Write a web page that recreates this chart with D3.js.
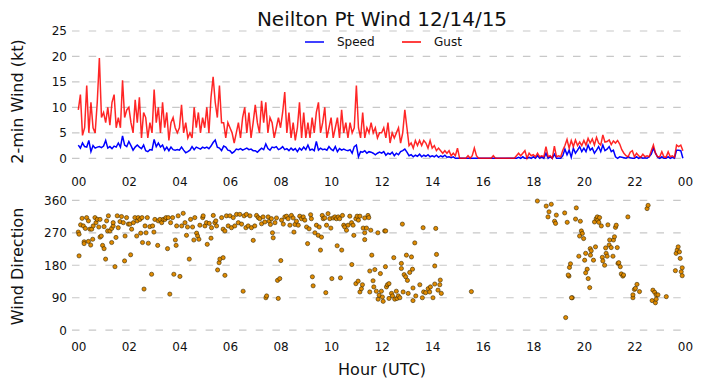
<!DOCTYPE html>
<html>
<head>
<meta charset="utf-8">
<script src="https://cdn.jsdelivr.net/npm/d3@7"></script>
<style>
body { margin: 0; background: #fff; }
text { font-family: "DejaVu Sans", sans-serif; fill: #111; }
</style>
</head>
<body>
<svg id="chart" width="702" height="388"></svg>
<script>
// 2-min wind, one value every 5 minutes (12 per row = 1 hour)
const speed = [
  2.6, 2, 3, 2.3, 2.2, 3.5, 1.3, 2.5, 2, 2.2, 2.3, 2.1,
  2.4, 3.5, 2, 2.3, 1.9, 2.4, 2.2, 3, 2.2, 4.4, 2.6, 2.3,
  3.3, 2.5, 1.6, 2.2, 2.6, 2.2, 1.9, 2.6, 1.5, 1.3, 1.7, 1.6,
  3.7, 2.3, 3, 2.2, 2.6, 1.6, 2.2, 1.5, 2.2, 1.7, 1.6, 1.7,
  1.6, 2.2, 1.6, 1.1, 1.3, 1.6, 2.3, 1.7, 2.2, 2, 1.8, 2.2,
  2, 2.2, 1.9, 2.4, 3.1, 3.6, 2.2, 2, 1.5, 2.4, 2.2, 1.6,
  1.5, 1, 1.3, 1.8, 1.7, 1.9, 1.6, 1.8, 2, 1.7, 1.8, 1.5,
  1.5, 1.2, 1.6, 2, 1.7, 2.8, 1.9, 1.6, 2.2, 2.1, 2.3, 1.7,
  1.9, 2.3, 1.7, 1.9, 1.5, 2, 1.6, 1.9, 1.3, 2, 1.6, 2.2,
  1.7, 2.6, 1.6, 1.8, 1.5, 3.3, 1.6, 2, 1.7, 1.8, 1.6, 2.3,
  1.8, 1.5, 2.3, 1.3, 1.9, 1.6, 1.8, 1.6, 1.5, 1.7, 1, 2.3,
  2.6, 0.3, 1.3, 1.2, 1.5, 1, 1.3, 1.2, 1, 0.7, 1, 1.2,
  1, 1.3, 0.6, 1, 0.8, 1.2, 0.5, 1, 0.7, 1.3, 1.5, 1.8,
  1.2, 0.5, 0.7, 0.3, 0.6, 0.4, 0.8, 0.3, 0.6, 0.4, 0.7, 0.3,
  0.5, 0.3, 0.6, 0.2, 0.5, 0.3, 0.6, 0.2, 0.3, 0.1, 0.3, 0,
  0, 0, 0, 0, 0, 0, 0, 0, 0, 0, 0, 0,
  0, 0, 0, 0, 0, 0, 0, 0, 0, 0, 0, 0,
  0, 0, 0, 0, 0, 0.2, 0, 0.3, 0, 0, 0.2, 0,
  0.3, 0, 0.5, 0, 0.3, 0, 1, 0, 0.3, 0, 0.8, 0,
  0, 0, 0.5, 1.8, 0.7, 1.6, 0.2, 2, 1, 1.6, 2.3, 1.3,
  2, 1.3, 2.6, 1.6, 2, 1, 1.6, 2.3, 1.3, 2.6, 1.5, 1.8,
  2.3, 1.3, 1.6, 0.3, 0, 0.3, 0.2, 0.1, 0, 0.3, 0.1, 0,
  0, 0.3, 0, 0.2, 0, 0.1, 0, 0.3, 0.8, 2, 1, 0.2,
  0, 0.3, 0, 0, 0.3, 0, 0.2, 0, 1.6, 1.6, 1.5, 0
];

const gust = [
  9.5, 12.5, 4.5, 6, 14.3, 5, 11, 6, 5, 11, 19.7, 8,
  9, 7, 10, 6.5, 11, 12.5, 6, 8, 6, 15.3, 8, 9.5,
  10, 7, 5, 11.5, 7, 12, 4, 9, 8, 4, 7, 5,
  13.5, 7, 10, 5, 11, 6, 9, 3.5, 7, 8, 6, 5,
  6, 10.5, 5, 7, 4, 5, 4, 10, 6, 9, 5, 8,
  6, 10, 5, 12, 16, 11, 8, 14.3, 7, 7, 4, 7,
  6, 5, 3, 5, 7, 4, 8, 10, 5, 9, 4, 7,
  10.5, 7, 5, 11.3, 7, 11, 5, 8, 7, 4, 6, 8,
  6, 9, 13, 5, 9, 4, 7, 3.5, 6, 11, 4, 9,
  4, 7, 4, 8, 5, 9, 11, 5, 7, 10, 4, 6,
  8, 4, 6, 8, 4, 9.5, 5, 7, 4, 7, 5, 6,
  14.3, 6, 4, 9, 4, 6, 5, 7, 5, 6, 4, 5,
  5, 6, 4, 7, 3, 5, 4, 5, 6, 3, 5, 9.5,
  6, 2.5, 3, 2, 3.5, 2.5, 3.5, 2.5, 3.5, 3, 2, 3.5,
  2, 2.5, 1.5, 2, 1.5, 1, 1.5, 1, 1.5, 0.5, 1, 0.5,
  2, 0, 0, 0, 0, 0.5, 0, 0.5, 2, 0.5, 0, 0,
  0, 0, 0, 0, 0, 0.5, 0, 0, 0, 0, 0, 0,
  0, 0, 0, 0, 0.5, 1, 0.5, 1, 1.5, 0, 1, 0.5,
  0.7, 0.3, 1, 0.3, 0.5, 0.3, 2.3, 0.3, 0.5, 0, 2.4, 0.3,
  0.5, 0.3, 1.6, 2.5, 3.7, 2, 3.5, 2.3, 3.6, 2.5, 3.2, 2.5,
  3.5, 2.6, 3.9, 3, 3.8, 2.6, 4.1, 3, 2.6, 4.6, 3.2, 3.3,
  3.6, 2.7, 3.4, 3, 3.5, 2.8, 1.7, 1, 0.5, 0.3, 1.2, 1.5,
  0.3, 1, 0.5, 0.2, 0.8, 0.3, 0.5, 0.3, 1.5, 2.6, 1, 0.3,
  0.3, 1.3, 0.3, 0.2, 1.3, 0.3, 0.5, 0.2, 2.6, 2.3, 2.6, 1.5
];

// wind direction observations: [hour UTC, degrees]
const direction = [
  [0.00,272],[0.03,266],[0.03,206],[0.09,292],[0.15,310],[0.20,289],[0.23,245],[0.23,240],[0.28,282],[0.33,312],
  [0.40,303],[0.40,246],[0.46,280],[0.49,236],[0.53,280],[0.57,252],[0.59,289],[0.66,312],[0.70,298],[0.75,307],
  [0.81,286],[0.86,307],[0.86,258],[0.91,261],[0.96,235],[1.02,226],[1.02,287],[1.08,197],[1.12,303],[1.19,317],
  [1.16,275],[1.25,275],[1.32,282],[1.32,243],[1.38,289],[1.38,298],[1.45,176],[1.49,257],[1.54,317],[1.58,284],
  [1.65,301],[1.71,315],[1.78,298],[1.85,261],[1.83,192],[1.91,312],[1.98,294],[2.04,294],[2.07,209],[2.11,280],
  [2.18,298],[2.24,312],[2.31,261],[2.33,303],[2.37,312],[2.44,307],[2.47,269],[2.52,312],[2.54,243],[2.60,114],
  [2.64,289],[2.68,270],[2.73,312],[2.77,241],[2.83,287],[2.90,155],[2.94,289],[2.99,272],[3.03,307],[3.14,235],
  [3.16,303],[3.23,307],[3.30,298],[3.36,307],[3.43,307],[3.47,312],[3.53,226],[3.56,312],[3.62,100],[3.65,298],
  [3.73,312],[3.78,155],[3.84,250],[3.87,235],[3.89,289],[3.95,317],[4.02,149],[4.09,289],[4.15,324],[4.22,298],
  [4.28,263],[4.32,286],[4.39,197],[4.44,307],[4.52,286],[4.57,250],[4.61,312],[4.68,269],[4.72,261],[4.77,252],
  [4.81,291],[4.92,312],[4.94,317],[5.01,289],[5.07,298],[5.10,238],[5.18,296],[5.25,255],[5.27,284],[5.34,318],
  [5.40,298],[5.44,303],[5.47,289],[5.51,167],[5.57,187],[5.60,197],[5.67,312],[5.73,201],[5.73,280],[5.80,152],
  [5.80,275],[5.86,317],[5.93,289],[6.00,317],[6.06,284],[6.13,312],[6.19,289],[6.26,321],[6.33,298],[6.39,321],
  [6.46,294],[6.52,108],[6.56,317],[6.63,284],[6.65,321],[6.72,289],[6.79,317],[6.85,284],[6.92,249],[6.98,289],
  [7.05,318],[7.12,312],[7.18,309],[7.25,295],[7.31,314],[7.38,300],[7.42,90],[7.45,95],[7.51,314],[7.55,302],
  [7.60,293],[7.64,309],[7.68,270],[7.71,256],[7.78,298],[7.84,311],[7.88,138],[7.91,88],[7.97,143],[8.01,193],
  [8.04,305],[8.11,294],[8.17,314],[8.24,316],[8.30,309],[8.37,291],[8.43,318],[8.50,311],[8.53,272],[8.57,293],
  [8.63,302],[8.70,291],[8.76,316],[8.83,309],[8.90,314],[8.96,305],[9.03,286],[9.07,240],[9.13,281],[9.19,320],
  [9.22,309],[9.26,148],[9.29,123],[9.36,270],[9.42,291],[9.49,263],[9.53,286],[9.58,222],[9.62,258],[9.65,318],
  [9.69,309],[9.75,311],[9.79,104],[9.82,291],[9.88,323],[9.95,309],[9.99,283],[10.03,143],[10.08,311],[10.15,314],
  [10.21,309],[10.24,234],[10.28,314],[10.34,309],[10.37,145],[10.42,222],[10.45,318],[10.50,291],[10.54,286],[10.61,277],
  [10.67,291],[10.74,316],[10.81,298],[10.82,182],[10.87,291],[10.90,263],[10.98,309],[10.98,129],[11.03,316],[11.07,136],
  [11.08,305],[11.14,316],[11.14,106],[11.20,115],[11.24,126],[11.27,283],[11.33,311],[11.33,270],[11.33,251],[11.40,283],
  [11.46,318],[11.49,312],[11.53,164],[11.53,106],[11.57,277],[11.61,208],[11.66,137],[11.69,120],[11.73,168],[11.79,108],
  [11.85,270],[11.86,86],[11.90,97],[11.95,157],[11.99,108],[12.03,92],[12.06,80],[12.12,275],[12.16,275],[12.15,176],
  [12.19,120],[12.23,126],[12.29,129],[12.29,88],[12.39,102],[12.43,95],[12.48,201],[12.52,86],[12.58,108],[12.61,88],
  [12.66,95],[12.72,90],[12.78,185],[12.78,171],[12.82,294],[12.85,106],[12.89,154],[12.95,148],[12.98,208],[13.02,138],
  [13.05,102],[13.11,160],[13.18,203],[13.22,169],[13.24,117],[13.24,82],[13.31,242],[13.35,95],[13.51,126],[13.61,90],
  [13.64,284],[13.66,106],[13.74,104],[13.84,115],[13.90,106],[13.93,120],[14.03,90],[14.10,178],[14.10,128],[14.14,282],
  [14.17,210],[14.23,111],[14.30,126],[14.32,139],[14.36,102],[15.55,107],
  [18.16,358],[18.51,344],[18.71,349],[18.62,328],[18.58,314],[18.91,319],[18.84,302],[18.88,296],[19.24,325],[19.34,299],
  [19.70,339],[19.67,308],[19.86,302],[19.90,275],[19.94,268],[19.83,261],[19.99,254],[19.28,35],[19.54,90],[19.51,90],
  [19.41,150],[19.43,174],[19.47,184],[19.38,153],[19.80,205],[20.03,194],[20.07,213],[20.13,169],[20.07,159],[20.17,143],
  [20.23,118],[20.25,226],[20.29,220],[20.26,208],[20.38,194],[20.46,231],[20.42,300],[20.49,309],[20.53,314],[20.55,305],
  [20.62,312],[20.59,299],[20.69,289],[20.73,202],[20.75,192],[20.82,180],[20.86,228],[20.88,213],[20.92,205],[20.95,292],
  [21.00,236],[21.02,250],[21.08,229],[21.15,205],[21.17,250],[21.21,259],[21.25,285],[21.28,291],[21.32,229],[21.35,185],
  [21.38,187],[21.44,176],[21.48,156],[21.54,150],[21.57,153],[21.74,314],[21.94,90],[21.94,98],[22.00,113],[22.04,116],
  [22.10,127],[22.20,107],[22.50,337],[22.54,346],[22.73,111],[22.80,105],[22.86,98],[22.93,98],[22.70,82],[22.83,76],
  [22.86,86],[23.26,93],[23.62,165],[23.65,213],[23.69,222],[23.73,231],[23.78,217],[23.81,199],[23.85,162],[23.89,173],
  [23.89,151]
];

const hourTicks = [0, 2, 4, 6, 8, 10, 12, 14, 16, 18, 20, 22, 24];
const hourLabels = ["00", "02", "04", "06", "08", "10", "12", "14", "16", "18", "20", "22", "00"];
const windTicks = [0, 5, 10, 15, 20, 25];
const dirTicks = [0, 90, 180, 270, 360];

const svg = d3.select("#chart");
const gridLeft = 72, gridRight = 690;

const x = d3.scaleLinear().domain([0, 24]).range([78.3, 685]);
const yWind = d3.scaleLinear().domain([0, 25]).range([158.3, 31]);
const yDir = d3.scaleLinear().domain([0, 360]).range([330.2, 200.3]);

const times = speed.map((d, i) => i / 12);

// title
svg.append("text")
    .attr("x", 382).attr("y", 26)
    .attr("text-anchor", "middle")
    .attr("font-size", 20)
    .text("Neilton Pt Wind 12/14/15");

function grid(scale, ticks) {
    svg.append("g").selectAll("line")
        .data(ticks)
        .join("line")
        .attr("x1", gridLeft).attr("x2", gridRight)
        .attr("y1", d => scale(d)).attr("y2", d => scale(d))
        .attr("stroke", "#c8c8c8")
        .attr("stroke-width", 1.2)
        .attr("stroke-dasharray", "7.5,9.2");
}

function styleAxis(g) {
    g.select(".domain").remove();
    g.selectAll("text").attr("font-size", 12).attr("font-family", "DejaVu Sans").attr("fill", "#111");
}

grid(yWind, windTicks);
grid(yDir, dirTicks);

// axes
svg.append("g").attr("transform", "translate(78,0)")
    .call(d3.axisLeft(yWind).tickValues(windTicks).tickSize(0).tickPadding(11))
    .call(styleAxis);
svg.append("g").attr("transform", "translate(0,170)")
    .call(d3.axisBottom(x).tickValues(hourTicks).tickFormat((d, i) => hourLabels[i]).tickSize(0).tickPadding(7))
    .call(styleAxis);
svg.append("g").attr("transform", "translate(78,0)")
    .call(d3.axisLeft(yDir).tickValues(dirTicks).tickSize(0).tickPadding(11))
    .call(styleAxis);
svg.append("g").attr("transform", "translate(0,335)")
    .call(d3.axisBottom(x).tickValues(hourTicks).tickFormat((d, i) => hourLabels[i]).tickSize(0).tickPadding(7))
    .call(styleAxis);

// axis titles
svg.append("text")
    .attr("transform", "translate(23,101.5) rotate(-90)")
    .attr("text-anchor", "middle").attr("font-size", 16)
    .text("2-min Wind (kt)");
svg.append("text")
    .attr("transform", "translate(23,266.5) rotate(-90)")
    .attr("text-anchor", "middle").attr("font-size", 16)
    .text("Wind Direction");
svg.append("text")
    .attr("x", 382).attr("y", 375)
    .attr("text-anchor", "middle").attr("font-size", 16)
    .text("Hour (UTC)");

// wind lines
const line = vals => d3.line()
    .x((d, i) => x(times[i]))
    .y(d => yWind(d))(vals);

svg.append("path")
    .attr("d", line(speed))
    .attr("fill", "none")
    .attr("stroke", "#0000ff")
    .attr("stroke-width", 1.5);

svg.append("path")
    .attr("d", line(gust))
    .attr("fill", "none")
    .attr("stroke", "#ff0000")
    .attr("stroke-opacity", 0.85)
    .attr("stroke-width", 1.5);

// legend
const legend = svg.append("g");
const legendItems = [
    { name: "Speed", color: "#0000ff", x: 305 },
    { name: "Gust", color: "#ff0000", x: 402 }
];
legend.selectAll("line")
    .data(legendItems)
    .join("line")
    .attr("x1", d => d.x).attr("x2", d => d.x + 19)
    .attr("y1", 42).attr("y2", 42)
    .attr("stroke", d => d.color)
    .attr("stroke-width", 1.5);
legend.selectAll("text")
    .data(legendItems)
    .join("text")
    .attr("x", d => d.x + 32)
    .attr("y", 46.3)
    .attr("font-size", 12)
    .text(d => d.name);

// direction scatter
svg.append("g").selectAll("circle")
    .data(direction)
    .join("circle")
    .attr("cx", d => x(d[0]))
    .attr("cy", d => yDir(d[1]))
    .attr("r", 2.1)
    .attr("fill", "#e08a00")
    .attr("stroke", "#3a2a00")
    .attr("stroke-width", 0.6);
</script>
</body>
</html>
